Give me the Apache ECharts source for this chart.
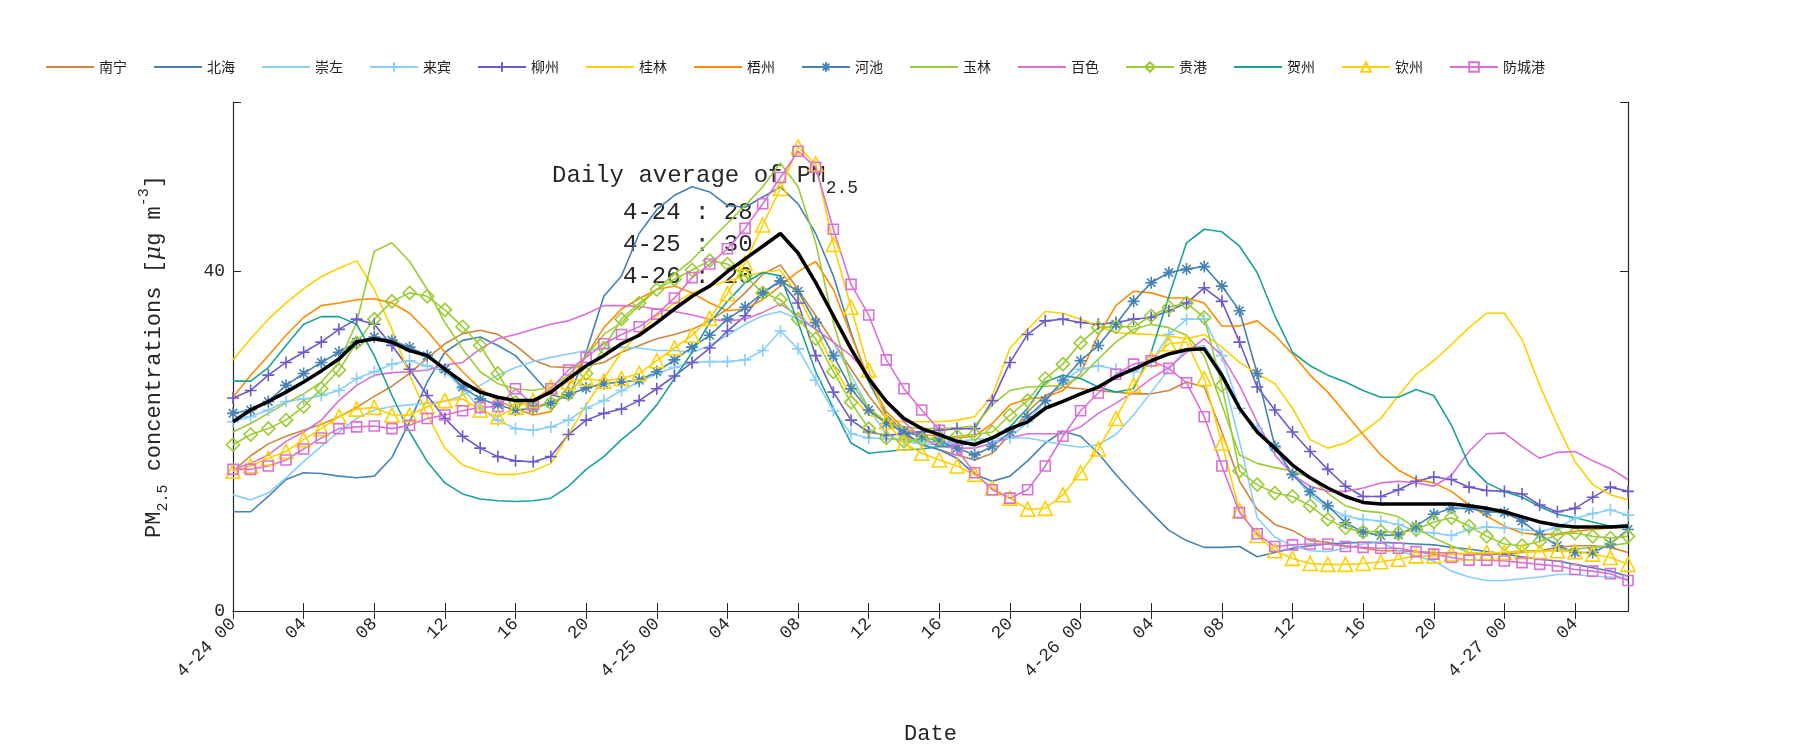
<!DOCTYPE html>
<html>
<head>
<meta charset="utf-8">
<script src="https://cdn.jsdelivr.net/npm/echarts@6/dist/echarts.min.js"></script>
<style>
  html, body { margin: 0; padding: 0; background: #fff; }
  #chart { width: 1800px; height: 750px; }
</style>
</head>
<body>
<div id="chart"></div>
<script>
// =====================
// 数据
// =====================

const days = ["4-24", "4-25", "4-26", "4-27"];
const hourCount = 80;

const nanning = [16.5,18.3,19.7,20.6,21.3,22,22.9,24,25.3,26.5,28,29.8,31.5,32.7,33.1,32.6,31.3,29.6,28.8,28.7,28.9,29.3,
  30.5,31.3,32.1,32.6,33.2,34.2,35.6,37.5,39.7,40.8,37.9,34.8,31.7,28.5,25.4,22.7,20.8,19.6,19,18.4,17.8,18.6,20.8,
  23.5,25.4,26.4,26.2,26,25.8,25.6,25.6,26,27,26.4,21.1,15.3,12,10.2,9.5,8.3,8.1,7.7,7.4,7.1,
  7.1,7,6.9,6.8,6.7,6.7,6.7,6.9,7.1,7.5,7.7,7.7,7.5,6.9];
const beihai = [11.7,11.7,13.5,15.5,16.3,16.2,15.9,15.7,15.9,18.1,22.3,27,30.5,31.9,32.3,31.3,30.1,27.8,25.5,25,30.5,37.1,
  39.5,44.5,47.3,49,50,49.4,47.8,47.6,48.8,50,48,44.5,39.5,32.8,27,23.1,21.1,19.6,19,18,16.1,15.3,15.9,
  17.7,19.8,21.2,20.6,18.6,16.1,13.8,11.6,9.5,8.3,7.5,7.5,7.6,6.4,6.9,7.4,7.7,7.9,8,8.1,8.1,
  8,7.9,7.8,7.5,7.3,7,6.7,6.4,6.1,5.9,5.5,5.1,4.7,4.1];
const chongzuo = [13.7,13.1,13.9,15.7,17.6,19.4,21.1,22.7,23.7,24.1,24.3,24.5,24.7,25.4,26.6,27.8,28.7,29.4,29.9,30.3,30.7,31,
  31.1,31,30.7,30.7,30.5,31.3,32.5,33.8,34.8,35.3,34.4,33.2,31.7,27.8,23.9,20.8,20,19.7,19.6,20,20.2,20.4,20.4,
  20.4,20,19.6,19.3,19.6,20.8,23.1,25.8,28.5,30.9,31.3,28.2,20,11,8.7,7.7,7.1,7,7.4,7.9,8.1,
  7.1,6.5,5.9,4.7,4,3.6,3.6,3.8,4,4.3,4.3,4.1,4,3.8];
const laibin = [22.3,22.9,23.7,24.7,25,25.4,26,27.4,28.2,29.1,29.5,28.9,28.2,26.2,23.9,22.5,21.5,21.3,21.7,22.5,23.9,24.8,
  26,27,28,28.7,29.3,29.4,29.4,29.6,30.7,33,30.9,27.2,23.6,20.9,20.4,20.3,20.2,20,20,19.8,19.8,20,20.4,
  22.3,24.8,27,28.5,28.9,28.5,28.2,29.3,32.6,34.4,34.4,30.1,23.9,21.5,19.2,16.1,13.7,12.2,11.2,10.8,10.6,
  10.2,9.4,9.2,8.9,9.6,9.9,9.8,9.6,9.4,9.8,10.9,11.5,11.9,11.3];
const liuzhou = [25.1,26,27.8,29.3,30.5,31.7,33.2,34.4,33.8,31.3,28.5,25.4,22.7,20.6,19.2,18.2,17.7,17.6,18.2,20.8,22.5,23.3,
  23.8,24.8,26.2,27.7,29.3,31,33,34.8,37.5,38.9,36.3,30.1,25.8,22.5,21.1,20.7,20.9,21.1,21.3,21.5,21.5,24.8,29.3,
  32.6,34.2,34.4,34,33.8,34,34.4,34.6,35.4,36.3,38.1,36.5,31.7,26.4,23.7,21.1,18.8,16.7,14.7,13.5,13.5,
  14.3,15.3,15.8,15.5,14.6,14.2,14.1,13.8,12.5,11.7,12.1,13.4,14.6,14.1];
const guilin = [29.6,32.1,34.4,36.3,38,39.4,40.4,41.3,37.9,33.2,27.8,23.1,19.2,17.2,16.5,16.1,16.1,16.5,17.4,20.8,24.3,27.4,
  30.5,32.8,34.8,36.3,37.5,38.3,38.9,39.5,39.9,40.2,37.1,33.2,28.9,25.4,23.1,22.5,22.3,22.3,22.3,22.5,22.9,25.4,31,
  33.2,35.3,35.1,34.4,33.6,32.8,32.7,32.6,32.4,32.1,32.6,31.1,29.3,28,26.8,23.9,20.2,19.2,19.8,21.1,22.7,
  25.4,27.9,29.5,31.4,33.4,35.1,35.1,32,26.6,21.9,17.6,14.9,13.7,13.1];
const wuzhou = [25.2,27.8,30.1,32.5,34.6,36,36.3,36.7,36.8,36.3,35.1,33,30.5,28.2,26.2,24.8,23.9,23.1,23.5,26.6,30.1,33.4,
  35.6,36.8,37.9,38.3,37.5,36.3,35.4,35.6,36.7,38.3,40,41.2,37.9,32.5,27.4,23.5,21.5,20.8,20.6,20.4,20.6,22.1,24.3,
  25,25.2,26,28,32.5,36,37.7,37.5,36.9,36.9,36.3,33.6,33.6,34.2,32.5,30.3,27.8,25.8,23.3,20.8,18.4,
  16.6,15.5,15.1,14.1,12.5,11.2,10,9.2,9,9.1,9.4,9.6,9.8,10];
const hechi = [23.3,23.7,24.7,26.6,28,29.3,30.5,31.7,32.3,31.9,31.1,30.1,28.5,26.4,25,24.3,23.7,23.9,24.5,25.5,26.3,26.8,
  27,27.2,28.2,29.6,31.1,32.5,34.4,35.8,37.5,38.9,37.7,34,30.1,26.2,23.7,22.1,21.1,20.6,20,19.2,18.4,19.4,21.1,
  22.9,24.8,27.2,29.5,31.3,33.8,36.5,38.7,39.9,40.3,40.6,38.3,35.4,28,19.4,16.1,14.1,12.4,10.4,9.3,8.9,
  9,10,11.4,12.1,12.1,11.7,11.6,10.6,9,7.7,6.9,6.9,7.9,9.6];
const yulin = [21.1,22.1,23.3,24.5,25.6,27,29.3,34,42.4,43.4,41.2,37.9,34,30.9,28.2,26.8,26.2,26,26.4,27.8,30.1,32.6,
  34,36,37.9,39.7,41.4,43.6,45.7,47.8,50,52.8,50,43.4,34,27,23.9,22.3,21.7,21.5,21.5,21.6,21.8,24.3,26,
  26.4,26.5,26.6,27.6,29.7,31.7,33.2,33.8,33.4,32.5,30.1,24.3,18.4,17.4,16.9,16.5,15.7,13.9,12.4,11.8,11.6,
  11.1,9.8,8.6,7.7,6.9,6.7,6.9,7.1,7.1,7.1,7.3,7.5,7.7,8];
const baise = [16.7,17.4,18.4,20,21.1,22.5,24.8,26.6,27.8,28.1,28.2,28.4,29,29.3,30.9,32.1,32.6,33.2,33.8,34.2,35,36,
  36,35.9,35.6,35.3,34.9,34.4,34.2,34.4,35.2,36.2,34.8,33.2,31.7,30.1,27.8,24.6,22.3,20.4,19.4,19.2,19.2,19.8,20.4,
  20.9,20.9,20.9,21.7,23.3,24.5,25.8,27.4,28.7,30.5,32.1,30.1,26.6,22.3,18.4,16.1,14.7,14.1,14.1,14.5,15.1,
  15.3,15.1,14.7,16,18.8,20.9,21,19.4,18,18.7,18.8,17.7,16.8,15.5];
const guigang = [19.6,20.8,21.5,22.5,24.1,26.2,28.4,31.6,34.4,36.5,37.5,37.1,35.5,33.5,31.3,28,24.6,24.1,24.5,25.6,28,31,
  34.4,36.3,37.9,39.1,40.2,41.3,40.9,39.5,37.5,36.7,34.4,32.1,28.2,24.6,21.5,20.4,20,20.2,20.4,20.6,20.8,21.1,23.1,
  24.8,27.4,29.1,31.6,33.4,33.5,33.5,34.8,35.8,36.3,34.6,26.6,16.5,14.9,13.9,13.5,12.4,10.8,9.8,9.3,9.4,
  9.2,9.6,10.5,11,10,8.8,7.9,7.7,8.2,9,9.2,8.8,8.6,8.8];
const hezhou = [27.1,27.1,28.7,31.3,33.8,34.7,34.7,33.8,30.1,25.4,21.1,17.6,15.1,13.8,13.2,13,12.9,13,13.3,14.7,16.7,18.2,
  20.2,21.9,24.3,27.4,30.5,34,36.5,38.7,39.9,39.5,34,28.2,23.9,19.8,18.6,18.8,19,19.1,19.4,19.5,19.8,20.4,21.7,
  23.9,27,27.8,27.4,26.4,25.8,26.2,30.5,37.1,43.4,45,44.7,43,39.9,34.8,30.5,28.9,27.8,27,26,25.2,
  25.2,26.1,25.4,21.9,17.2,15.1,14.1,13.4,12.3,11.4,11,10.5,10,10.2];
const qinzhou = [16.5,17.1,18,18.8,20.2,21.5,22.9,23.8,24,23.1,23.1,24.1,24.8,25,23.7,22.9,24,24.8,26.4,27,27.4,27.1,
  27.4,28,29.5,31,32.5,34.5,37.4,41,45.5,49.8,54.7,52.7,43.2,35.8,28.4,22.3,19.8,18.6,17.8,17.1,16.1,14.5,13.3,
  12,12.1,13.7,16.3,19.1,22.7,26.6,29.7,31.5,31.7,27.4,19.8,11.8,8.9,7.1,6.2,5.6,5.5,5.5,5.6,5.8,
  6.1,6.5,6.5,6.7,6.8,6.9,6.9,7,7,7.1,7,6.7,6.3,5.5];
const fangchenggang = [16.7,16.7,17.1,17.8,19.1,20.4,21.5,21.7,21.8,21.5,21.9,22.7,23.1,23.6,24,24.1,26.2,24.3,26.2,28.4,29.9,31.5,
  32.6,33.5,35,36.9,39.3,40.9,42.7,45.1,48,51.1,54.2,52.3,45,38.5,34.9,29.6,26.2,23.7,21.3,19,16.3,14.3,13.3,
  14.3,17.1,20.6,23.6,25.7,27.9,29.1,29.5,28.6,26.9,22.9,17.1,11.6,9.1,7.6,7.8,7.9,7.9,7.6,7.5,7.4,
  7.4,7,6.7,6.3,6,6,5.9,5.7,5.5,5.3,4.9,4.7,4.4,3.6];
const average = [22.3,23.7,24.7,25.8,27,28.3,29.7,31.7,32.1,31.7,30.7,30.1,28.5,27,25.8,25.2,24.8,24.8,25.8,27.4,28.9,30.1,
  31.5,32.5,34,35.6,37.1,38.3,40,41.5,43,44.5,42.2,38.7,34.8,30.9,27.4,24.7,22.7,21.5,20.8,20,19.6,20.4,21.5,
  22.3,23.9,24.7,25.6,26.4,27.6,28.5,29.5,30.3,30.8,30.9,27.8,23.9,21.1,19.2,17.2,15.7,14.5,13.5,12.8,12.6,
  12.6,12.6,12.6,12.6,12.4,12.1,11.7,11.1,10.5,10.1,9.9,9.9,9.9,10];
const dailyAverage = [28, 30, 20];

const hourLabels = [];
for (let i = 0; i < hourCount; i++) {
  const hh = i % 24;
  const label = (hh < 10 ? "0" : "") + hh;
  hourLabels.push(hh === 0 ? days[i / 24] + " " + label : label);
}

// =====================
// 样式
// =====================

const FONT = "Liberation Mono";
const PLUS = "path://M5,0L5,10M0,5L10,5";
const STAR = "path://M5,0L5,10M0,5L10,5M1.5,1.5L8.5,8.5M8.5,1.5L1.5,8.5";

const cities = [
  { name: "南宁", data: nanning, color: "#CD853F" },
  { name: "北海", data: beihai, color: "#4682B4" },
  { name: "崇左", data: chongzuo, color: "#87CEFA" },
  { name: "来宾", data: laibin, color: "#87CEFA", symbol: PLUS, size: 12 },
  { name: "柳州", data: liuzhou, color: "#6A5ACD", symbol: PLUS, size: 12 },
  { name: "桂林", data: guilin, color: "#FFD000" },
  { name: "梧州", data: wuzhou, color: "#FF8C00" },
  { name: "河池", data: hechi, color: "#4682B4", symbol: STAR, size: 12 },
  { name: "玉林", data: yulin, color: "#9ACD32" },
  { name: "百色", data: baise, color: "#DA70D6" },
  { name: "贵港", data: guigang, color: "#9ACD32", symbol: "diamond", size: 13 },
  { name: "贺州", data: hezhou, color: "#17A398" },
  { name: "钦州", data: qinzhou, color: "#FFD000", symbol: "triangle", size: 14 },
  { name: "防城港", data: fangchenggang, color: "#DA70D6", symbol: "rect", size: 10 },
];

const series = cities.map((c) => ({
  name: c.name,
  type: "line",
  data: c.data,
  symbol: c.symbol || "none",
  symbolSize: c.size || 0,
  showSymbol: !!c.symbol,
  showAllSymbol: true,
  lineStyle: { color: c.color, width: 1.6 },
  itemStyle: { color: "rgba(255,255,255,0)", borderColor: c.color, borderWidth: 1.6 },
  emphasis: { disabled: true },
}));

series.push({
  name: "average",
  type: "line",
  data: average,
  symbol: "none",
  lineStyle: { color: "#000", width: 3.5 },
  itemStyle: { color: "#000" },
  z: 5,
});

// =====================
// 图表
// =====================

const chart = echarts.init(document.getElementById("chart"));

const axisLine = { show: true, lineStyle: { color: "#262626", width: 1.2 } };

chart.setOption({
  animation: false,
  backgroundColor: "#fff",

  legend: {
    data: cities.map((c) =>
      c.symbol ? { name: c.name } : { name: c.name, itemStyle: { opacity: 0 } }
    ),
    top: 55,
    left: 40,
    itemWidth: 48,
    itemHeight: 12,
    itemGap: 26,
    textStyle: { fontFamily: "Noto Sans CJK SC", fontSize: 14, color: "#222" },
  },

  grid: { left: 233, right: 172, top: 102, bottom: 136 },

  xAxis: [
    {
      type: "category",
      data: hourLabels,
      boundaryGap: false,
      axisLine: axisLine,
      axisTick: { inside: true, interval: 3, length: 8, lineStyle: { color: "#262626" } },
      axisLabel: {
        interval: 3,
        rotate: 45,
        fontFamily: FONT,
        fontSize: 18,
        color: "#262626",
        margin: 10,
      },
      name: "Date",
      nameLocation: "middle",
      nameGap: 112,
      nameTextStyle: { fontFamily: FONT, fontSize: 22, color: "#262626" },
    },
    {
      type: "category",
      data: hourLabels,
      boundaryGap: false,
      position: "top",
      axisLine: axisLine,
      axisTick: { inside: true, interval: 3, length: 8, lineStyle: { color: "#262626" } },
      axisLabel: { show: false },
    },
  ],

  yAxis: [
    {
      type: "value",
      min: 0,
      max: 60,
      interval: 40,
      axisLine: axisLine,
      axisTick: { show: true, inside: true, length: 8, lineStyle: { color: "#262626" } },
      splitLine: { show: false },
      axisLabel: {
        fontFamily: FONT,
        fontSize: 18,
        color: "#262626",
        formatter: (v) => (v === 60 ? "" : v),
      },
      name: "PM{sub|2.5} concentrations [{it|μ}g m{sup|-3}]",
      nameLocation: "middle",
      nameGap: 62,
      nameTextStyle: {
        fontFamily: FONT,
        fontSize: 22,
        color: "#262626",
        lineHeight: 34,
        rich: {
          sub: { fontFamily: FONT, fontSize: 15, color: "#262626", verticalAlign: "bottom", lineHeight: 34 },
          sup: { fontFamily: FONT, fontSize: 15, color: "#262626", verticalAlign: "top", lineHeight: 34 },
          it: { fontFamily: "DejaVu Serif", fontStyle: "italic", fontSize: 22, color: "#262626", lineHeight: 34 },
        },
      },
    },
    {
      type: "value",
      min: 0,
      max: 60,
      interval: 40,
      position: "right",
      axisLine: axisLine,
      axisTick: { show: true, inside: true, length: 8, lineStyle: { color: "#262626" } },
      splitLine: { show: false },
      axisLabel: { show: false },
    },
  ],

  series: series,

  graphic: [
    {
      type: "text",
      left: 552,
      top: 164,
      z: 1,
      style: {
        text: "Daily average of PM{sub|2.5}",
        font: "24px " + FONT,
        fill: "#262626",
        rich: {
          sub: { font: "18px " + FONT, fill: "#262626", padding: [24, 0, 0, 0] },
        },
      },
    },
    ...dailyAverage.map((v, i) => ({
      type: "text",
      left: 623,
      top: 201 + i * 32,
      z: 1,
      style: {
        text: days[i] + " : " + v,
        font: "24px " + FONT,
        fill: "#262626",
      },
    })),
  ],
});
</script>
</body>
</html>
